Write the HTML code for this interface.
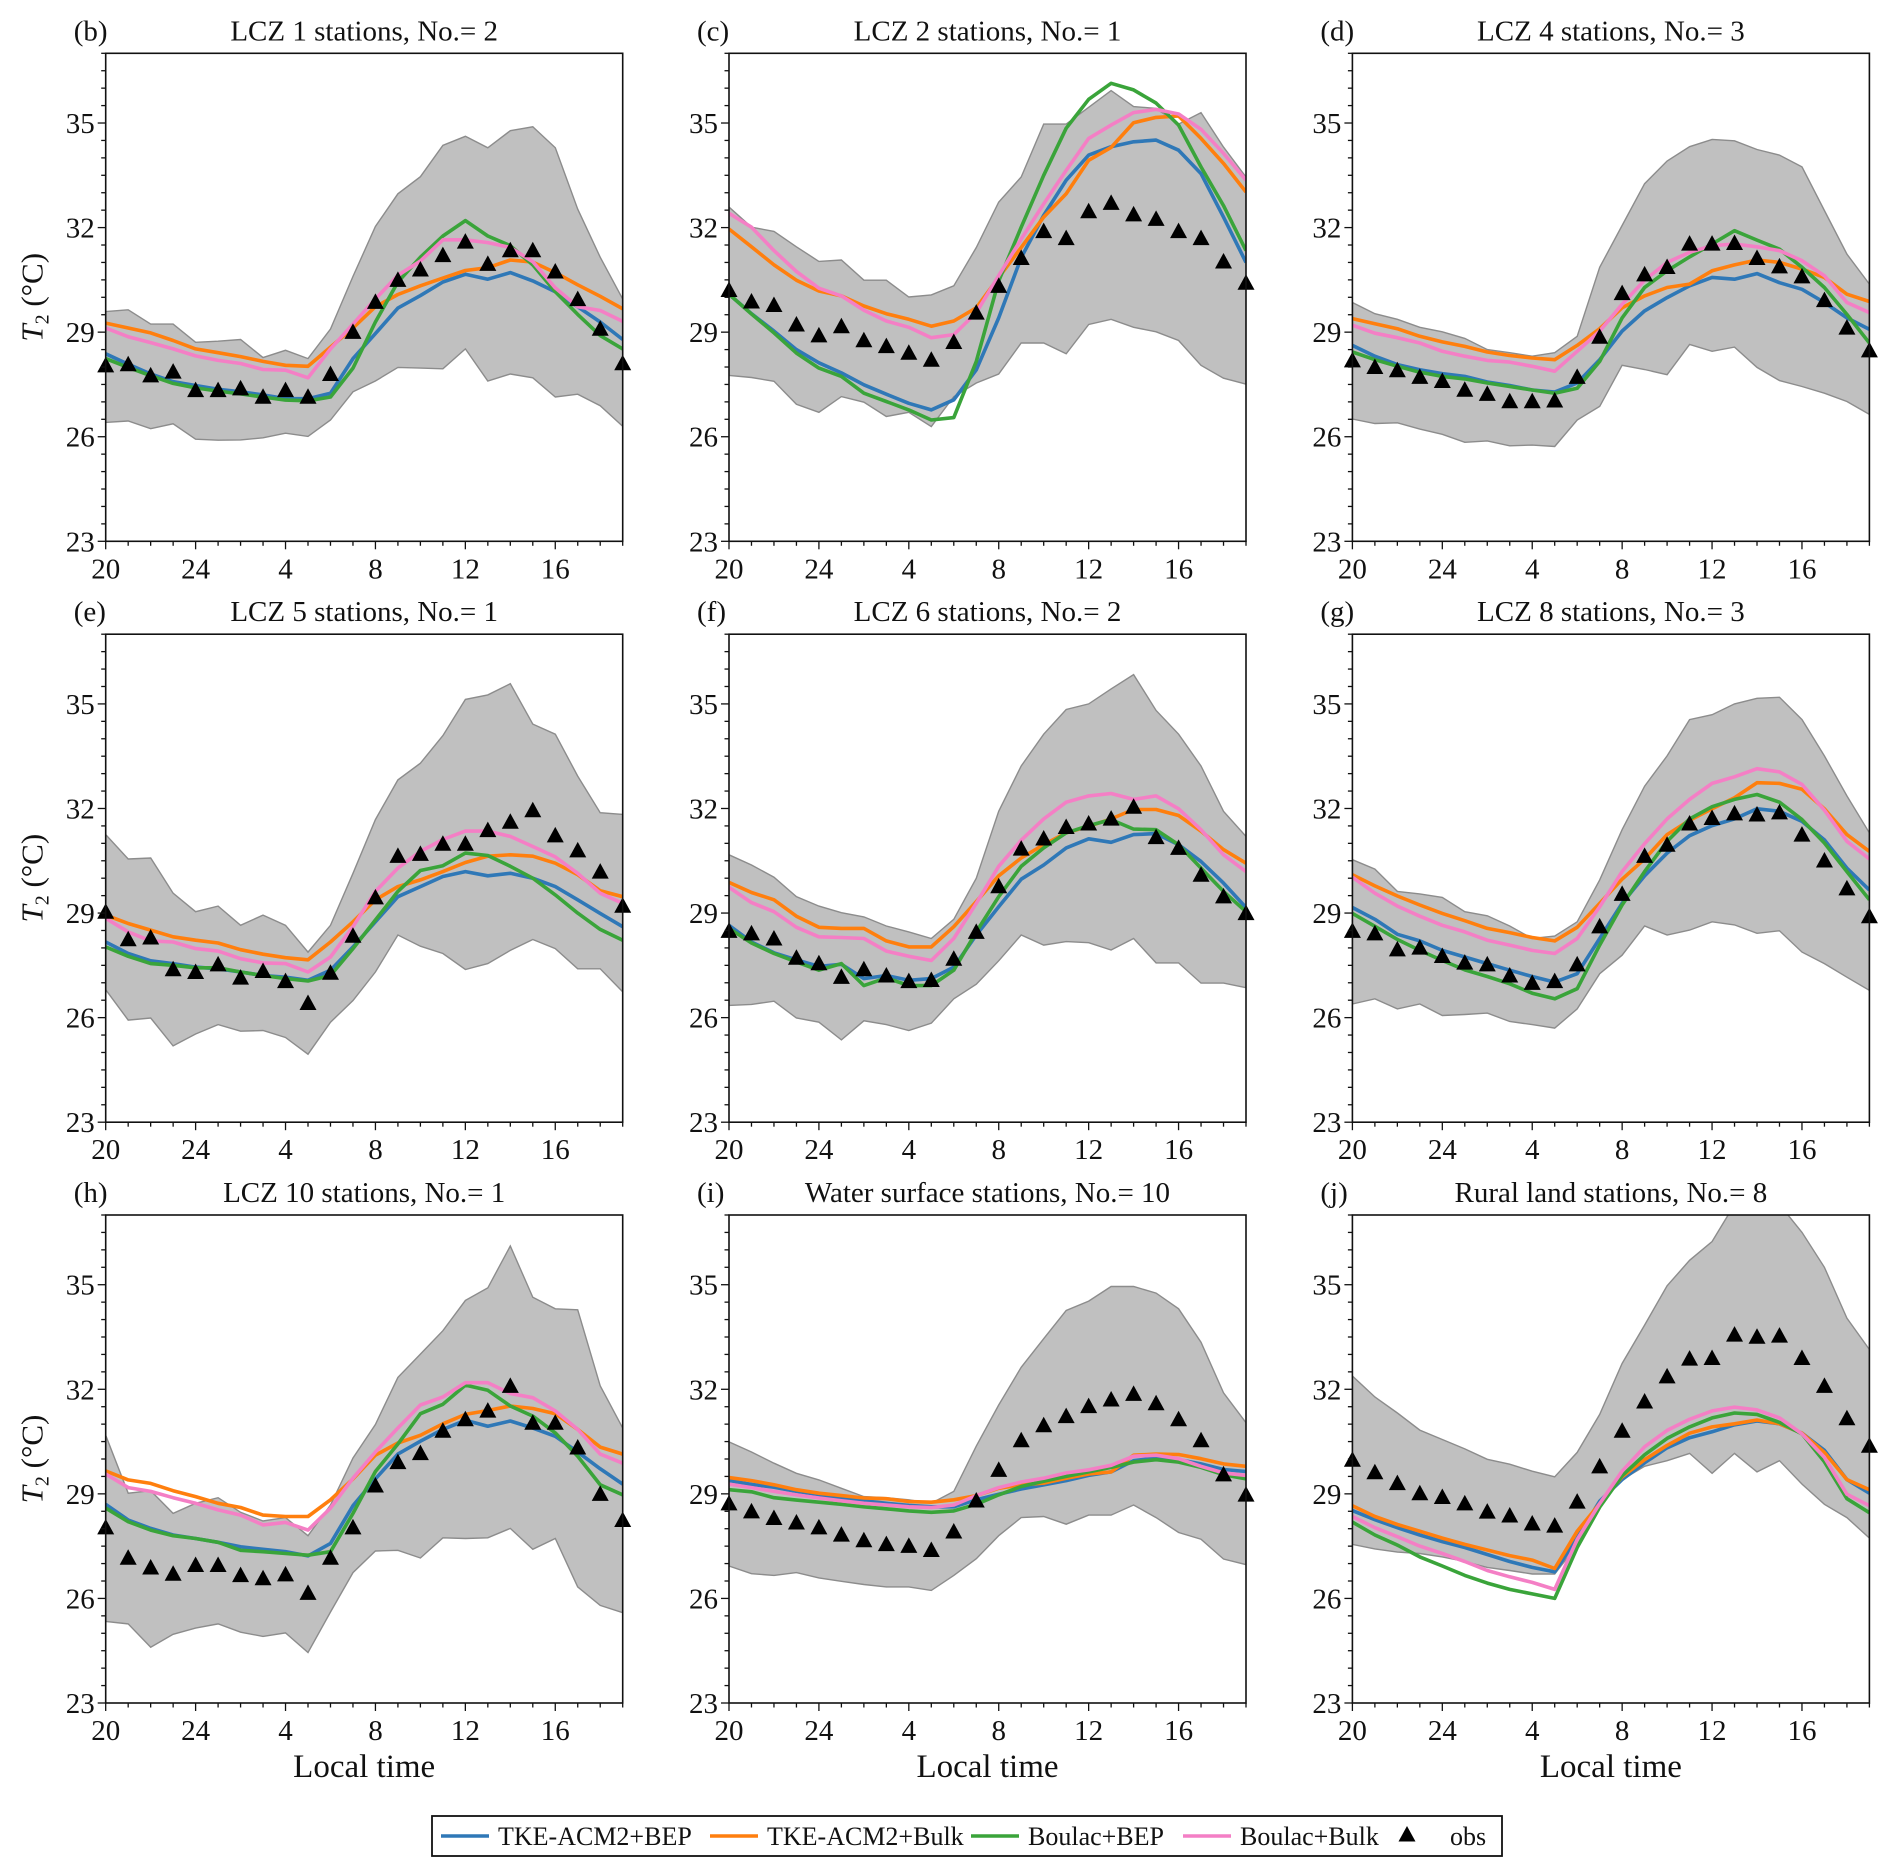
<!DOCTYPE html>
<html><head><meta charset="utf-8"><title>T2 diurnal cycles by LCZ</title>
<style>
html,body{margin:0;padding:0;background:#fff;}
svg{display:block;font-family:"Liberation Serif","DejaVu Serif",serif;}
</style></head>
<body>
<svg id="fig" width="1892" height="1873" viewBox="0 0 1892 1873" xmlns="http://www.w3.org/2000/svg"></svg>
<script>
// ---- data ----
const hourLabels = [20,21,22,23,24,1,2,3,4,5,6,7,8,9,10,11,12,13,14,15,16,17,18,19];
const xTickIdx = [0,4,8,12,16,20];
const xTickLabels = ["20","24","4","8","12","16"];
const yTicks = [23,26,29,32,35];
const panelLetters = ["(b)","(c)","(d)","(e)","(f)","(g)","(h)","(i)","(j)"];
const panelTitles = ["LCZ 1 stations, No.= 2","LCZ 2 stations, No.= 1","LCZ 4 stations, No.= 3","LCZ 5 stations, No.= 1","LCZ 6 stations, No.= 2","LCZ 8 stations, No.= 3","LCZ 10 stations, No.= 1","Water surface stations, No.= 10","Rural land stations, No.= 8"];

const tkeBep = [
[28.38,28.08,27.80,27.58,27.47,27.36,27.29,27.20,27.09,27.09,27.25,28.24,28.96,29.69,30.05,30.44,30.66,30.52,30.71,30.47,30.16,29.73,29.29,28.79],
[30.09,29.53,29.03,28.50,28.12,27.83,27.49,27.22,26.96,26.77,27.06,27.92,29.41,31.14,32.35,33.36,34.08,34.32,34.46,34.51,34.22,33.55,32.30,31.00],
[28.62,28.31,28.07,27.92,27.81,27.73,27.57,27.47,27.34,27.28,27.54,28.21,29.03,29.61,29.99,30.33,30.57,30.52,30.68,30.42,30.23,29.85,29.41,29.08],
[28.17,27.84,27.63,27.55,27.45,27.40,27.31,27.21,27.16,27.07,27.36,28.03,28.75,29.47,29.76,30.05,30.19,30.07,30.14,30.00,29.76,29.38,28.99,28.61],
[28.65,28.17,27.86,27.66,27.47,27.53,27.12,27.21,27.07,27.12,27.45,28.37,29.18,29.97,30.38,30.87,31.13,31.03,31.25,31.28,30.96,30.48,29.86,29.16],
[29.16,28.82,28.39,28.20,27.93,27.74,27.55,27.36,27.18,27.02,27.26,28.27,29.28,30.07,30.72,31.22,31.51,31.70,31.99,31.92,31.63,31.10,30.29,29.66],
[28.70,28.25,28.01,27.82,27.72,27.61,27.48,27.41,27.34,27.22,27.58,28.66,29.43,30.14,30.51,30.85,31.11,30.94,31.09,30.89,30.65,30.20,29.72,29.28],
[29.38,29.27,29.19,29.07,28.98,28.88,28.80,28.73,28.67,28.63,28.63,28.83,28.99,29.14,29.26,29.38,29.53,29.63,29.95,30.03,29.98,29.86,29.70,29.64],
[28.52,28.26,28.03,27.82,27.63,27.46,27.26,27.06,26.89,26.76,27.73,28.79,29.41,29.89,30.32,30.61,30.78,30.98,31.09,31.01,30.74,30.25,29.41,29.02]];
const tkeBulk = [
[29.26,29.12,28.98,28.76,28.52,28.41,28.30,28.16,28.05,28.02,28.57,29.12,29.73,30.08,30.33,30.55,30.77,30.85,31.07,31.01,30.71,30.36,30.03,29.67],
[31.96,31.45,30.93,30.49,30.18,30.04,29.75,29.53,29.37,29.17,29.32,29.70,30.57,31.43,32.30,32.97,33.93,34.30,35.01,35.16,35.20,34.56,33.84,33.02],
[29.39,29.24,29.10,28.88,28.72,28.59,28.43,28.33,28.26,28.21,28.62,29.10,29.70,30.04,30.28,30.38,30.76,30.93,31.07,31.00,30.81,30.57,30.09,29.88],
[28.94,28.70,28.51,28.32,28.22,28.14,27.95,27.82,27.72,27.66,28.17,28.75,29.38,29.76,29.95,30.19,30.45,30.63,30.67,30.63,30.43,30.10,29.64,29.47],
[29.88,29.59,29.38,28.91,28.59,28.56,28.56,28.20,28.03,28.03,28.61,29.33,30.07,30.58,30.96,31.30,31.49,31.70,31.97,31.97,31.80,31.35,30.82,30.43],
[30.10,29.78,29.49,29.23,28.99,28.78,28.56,28.44,28.30,28.20,28.59,29.28,29.97,30.55,31.25,31.66,31.99,32.31,32.74,32.72,32.55,31.99,31.25,30.77],
[29.66,29.40,29.30,29.09,28.92,28.73,28.61,28.39,28.35,28.35,28.83,29.43,30.11,30.46,30.68,31.01,31.28,31.39,31.52,31.45,31.30,30.85,30.34,30.14],
[29.47,29.38,29.26,29.12,29.02,28.95,28.88,28.86,28.78,28.76,28.83,28.95,29.16,29.26,29.31,29.45,29.57,29.63,30.11,30.14,30.13,30.01,29.86,29.79],
[28.66,28.35,28.12,27.93,27.73,27.55,27.39,27.23,27.10,26.86,27.93,28.72,29.49,29.98,30.39,30.74,30.92,31.01,31.12,31.01,30.74,30.19,29.41,29.12]];
const boulacBep = [
[28.24,27.99,27.75,27.53,27.40,27.31,27.23,27.14,27.05,27.03,27.14,27.97,29.29,30.44,31.15,31.76,32.20,31.76,31.48,30.93,30.16,29.51,28.90,28.52],
[30.09,29.52,28.98,28.40,27.97,27.73,27.25,27.01,26.77,26.48,26.55,28.16,30.47,32.01,33.50,34.85,35.68,36.14,35.95,35.57,34.94,33.74,32.63,31.34],
[28.43,28.21,28.02,27.85,27.73,27.66,27.54,27.44,27.34,27.25,27.39,28.16,29.41,30.28,30.76,31.16,31.53,31.91,31.64,31.38,30.86,30.28,29.51,28.69],
[28.03,27.76,27.55,27.50,27.43,27.43,27.31,27.21,27.12,27.05,27.21,27.98,28.80,29.62,30.22,30.36,30.72,30.65,30.34,30.00,29.52,29.00,28.53,28.22],
[28.56,28.14,27.84,27.60,27.36,27.55,26.92,27.14,26.92,26.92,27.36,28.46,29.47,30.34,30.87,31.30,31.51,31.68,31.41,31.39,30.96,30.29,29.62,29.04],
[28.99,28.62,28.24,27.93,27.64,27.37,27.18,26.97,26.70,26.54,26.83,28.08,29.23,30.19,31.06,31.70,32.05,32.26,32.40,32.18,31.68,31.01,30.19,29.38],
[28.59,28.20,27.96,27.80,27.72,27.61,27.38,27.34,27.29,27.24,27.34,28.44,29.64,30.43,31.30,31.57,32.12,31.97,31.52,31.23,30.75,30.08,29.26,28.97],
[29.12,29.06,28.89,28.82,28.76,28.70,28.63,28.57,28.51,28.47,28.51,28.70,28.97,29.21,29.36,29.50,29.63,29.76,29.91,29.98,29.91,29.76,29.55,29.43],
[28.19,27.82,27.53,27.19,26.93,26.66,26.44,26.26,26.13,26.00,27.46,28.62,29.52,30.12,30.59,30.92,31.18,31.32,31.28,31.05,30.72,29.92,28.86,28.46]];
const boulacBulk = [
[29.12,28.87,28.70,28.52,28.32,28.19,28.10,27.93,27.91,27.69,28.52,29.23,29.95,30.63,31.04,31.65,31.65,31.57,31.43,31.02,30.27,29.73,29.62,29.31],
[32.41,32.01,31.34,30.74,30.26,30.04,29.63,29.32,29.14,28.84,28.93,29.56,30.62,31.67,32.68,33.64,34.56,34.94,35.30,35.39,35.26,34.82,34.13,33.36],
[29.20,28.97,28.84,28.69,28.45,28.31,28.19,28.14,28.02,27.88,28.45,29.03,29.80,30.49,31.00,31.29,31.48,31.53,31.45,31.34,31.05,30.62,29.85,29.56],
[28.85,28.46,28.20,28.17,27.98,27.91,27.69,27.57,27.55,27.31,27.74,28.61,29.62,30.29,30.77,31.11,31.35,31.35,31.20,30.91,30.61,30.14,29.57,29.28],
[29.74,29.30,29.04,28.59,28.32,28.30,28.27,27.91,27.76,27.64,28.27,29.28,30.34,31.09,31.70,32.18,32.36,32.43,32.26,32.36,31.99,31.39,30.67,30.19],
[30.03,29.57,29.20,28.91,28.65,28.46,28.22,28.08,27.93,27.84,28.27,29.18,30.19,30.99,31.70,32.26,32.72,32.91,33.14,33.05,32.69,31.95,31.06,30.55],
[29.57,29.18,29.07,28.89,28.73,28.54,28.39,28.11,28.18,27.96,28.59,29.45,30.20,30.89,31.55,31.78,32.19,32.19,31.88,31.76,31.38,30.85,30.14,29.88],
[29.28,29.18,29.07,28.97,28.88,28.80,28.73,28.68,28.63,28.61,28.68,28.95,29.18,29.34,29.45,29.60,29.69,29.82,30.08,30.11,30.01,29.79,29.60,29.53],
[28.35,28.03,27.77,27.50,27.29,27.06,26.80,26.62,26.46,26.26,27.69,28.72,29.65,30.35,30.82,31.14,31.38,31.49,31.41,31.18,30.72,30.05,28.99,28.66]];
const obsVals = [
[28.02,28.05,27.73,27.84,27.31,27.31,27.36,27.12,27.31,27.12,27.77,28.98,29.84,30.47,30.77,31.18,31.57,30.93,31.32,31.32,30.71,29.92,29.07,28.08],
[30.18,29.85,29.75,29.19,28.88,29.14,28.74,28.57,28.38,28.18,28.69,29.53,30.30,31.10,31.87,31.67,32.44,32.68,32.35,32.22,31.87,31.67,31.00,30.39],
[28.16,27.97,27.88,27.69,27.57,27.32,27.20,26.99,26.99,27.01,27.69,28.84,30.09,30.63,30.84,31.51,31.51,31.53,31.10,30.86,30.57,29.89,29.10,28.45],
[29.01,28.22,28.27,27.36,27.28,27.50,27.12,27.31,27.02,26.39,27.26,28.32,29.42,30.61,30.67,30.96,30.96,31.35,31.59,31.92,31.20,30.77,30.16,29.18],
[28.46,28.39,28.24,27.69,27.53,27.14,27.36,27.18,27.02,27.05,27.66,28.43,29.74,30.82,31.11,31.44,31.54,31.68,32.02,31.15,30.84,30.07,29.45,28.97],
[28.46,28.39,27.93,27.98,27.74,27.55,27.50,27.18,26.97,27.02,27.50,28.59,29.52,30.61,30.93,31.54,31.70,31.83,31.80,31.86,31.22,30.48,29.68,28.88],
[28.01,27.14,26.86,26.68,26.93,26.93,26.64,26.55,26.66,26.13,27.14,28.01,29.21,29.88,30.14,30.78,31.11,31.36,32.07,31.01,31.01,30.30,28.97,28.22],
[28.70,28.47,28.28,28.15,28.01,27.80,27.64,27.53,27.48,27.36,27.89,28.78,29.66,30.51,30.94,31.20,31.49,31.68,31.84,31.57,31.11,30.51,29.53,28.95],
[29.95,29.59,29.28,28.99,28.88,28.70,28.46,28.35,28.12,28.06,28.75,29.76,30.78,31.62,32.34,32.85,32.87,33.54,33.48,33.51,32.87,32.07,31.14,30.35]];
const bandUpper = [
[29.59,29.64,29.23,29.23,28.71,28.74,28.79,28.27,28.48,28.24,29.09,30.60,32.03,32.97,33.46,34.36,34.62,34.29,34.78,34.89,34.29,32.53,31.15,29.95],
[32.59,32.01,31.89,31.45,31.03,31.07,30.49,30.49,30.01,30.07,30.33,31.43,32.73,33.45,34.97,34.97,35.45,35.93,35.47,35.42,34.97,35.30,34.31,33.45],
[29.85,29.53,29.37,29.14,29.01,28.82,28.50,28.41,28.31,28.41,28.88,30.86,32.06,33.26,33.91,34.32,34.53,34.49,34.24,34.08,33.74,32.49,31.24,30.38],
[31.25,30.55,30.58,29.57,29.04,29.20,28.65,28.94,28.65,27.88,28.65,30.14,31.68,32.82,33.30,34.09,35.13,35.26,35.58,34.42,34.13,32.93,31.88,31.83],
[30.67,30.38,30.03,29.47,29.20,29.01,28.89,28.63,28.46,28.27,28.82,30.00,31.92,33.22,34.13,34.84,35.00,35.43,35.84,34.81,34.13,33.22,31.92,31.20],
[30.53,30.26,29.62,29.55,29.45,29.04,28.92,28.63,28.27,28.34,28.75,29.95,31.39,32.64,33.51,34.55,34.69,35.00,35.16,35.19,34.55,33.51,32.36,31.30],
[30.68,29.02,29.09,28.44,28.73,28.89,28.47,28.22,28.32,27.80,28.68,30.03,30.99,32.34,33.01,33.68,34.55,34.91,36.11,34.64,34.31,34.28,32.10,30.89],
[30.49,30.20,29.88,29.59,29.40,29.16,28.92,28.89,28.83,28.73,29.07,30.37,31.55,32.63,33.45,34.26,34.53,34.95,34.95,34.76,34.31,33.35,31.90,31.04],
[32.38,31.78,31.32,30.83,30.56,30.29,29.99,29.85,29.65,29.49,30.19,31.28,32.74,33.84,34.97,35.70,36.24,37.30,37.50,37.30,36.50,35.50,34.04,33.14]];
const bandLower = [
[26.41,26.45,26.23,26.37,25.93,25.90,25.91,25.97,26.10,26.01,26.48,27.29,27.60,27.99,27.97,27.95,28.52,27.60,27.80,27.69,27.14,27.22,26.89,26.30],
[27.76,27.70,27.59,26.93,26.70,27.15,26.99,26.58,26.70,26.29,27.15,27.54,27.80,28.69,28.69,28.38,29.22,29.37,29.14,29.01,28.76,28.05,27.68,27.51],
[26.51,26.38,26.40,26.22,26.07,25.84,25.88,25.74,25.76,25.72,26.48,26.87,28.05,27.93,27.78,28.65,28.45,28.57,27.99,27.61,27.44,27.25,27.01,26.64],
[26.80,25.93,25.99,25.19,25.53,25.80,25.61,25.63,25.43,24.95,25.87,26.49,27.31,28.37,28.05,27.84,27.38,27.55,27.93,28.24,27.98,27.40,27.40,26.74],
[26.35,26.38,26.47,25.99,25.87,25.36,25.91,25.80,25.63,25.84,26.54,26.96,27.63,28.37,28.08,28.18,28.15,27.94,28.27,27.57,27.57,26.99,26.99,26.86],
[26.39,26.54,26.25,26.39,26.06,26.09,26.13,25.89,25.80,25.70,26.25,27.26,27.79,28.63,28.37,28.51,28.75,28.66,28.42,28.49,27.88,27.55,27.16,26.78],
[25.34,25.27,24.60,24.97,25.15,25.27,25.03,24.91,25.01,24.45,25.61,26.74,27.36,27.38,27.16,27.74,27.72,27.74,28.01,27.41,27.72,26.33,25.80,25.59],
[26.93,26.71,26.66,26.74,26.59,26.49,26.40,26.33,26.33,26.23,26.66,27.14,27.80,28.32,28.35,28.13,28.39,28.39,28.68,28.32,27.89,27.70,27.13,26.97],
[27.55,27.42,27.33,27.29,27.19,27.06,26.89,26.80,26.70,26.70,27.53,28.72,29.41,29.79,29.95,30.16,29.59,30.16,29.63,29.95,29.28,28.70,28.32,27.73]];

const seriesNames = ["TKE-ACM2+BEP","TKE-ACM2+Bulk","Boulac+BEP","Boulac+Bulk"];
const seriesColors = ["#2f78b7","#ff7f0e","#3aa43a","#f47fc5"];

// ---- layout ----
const NS = "http://www.w3.org/2000/svg";
const svg = document.getElementById("fig");
const colLeft = [105.7, 729, 1352.4];
const rowTop = [53.3, 634.2, 1215];
const W = 517, H = 488;
const Y0 = 23, Y1 = 37, XMAX = 23;

function mk(tag, attrs, parent) {
  const e = document.createElementNS(NS, tag);
  for (const k in attrs) e.setAttribute(k, attrs[k]);
  (parent || svg).appendChild(e);
  return e;
}
const defs = mk("defs", {});

for (let p = 0; p < 9; p++) {
  const r = Math.floor(p / 3), c = p % 3;
  const L = colLeft[c], T = rowTop[r];
  const xs = i => L + i * W / XMAX;
  const ys = v => T + (Y1 - v) * H / (Y1 - Y0);

  const g = mk("g", {});
  
  

  const cp = mk("clipPath", {id: "clip" + p}, defs);
  mk("rect", {x: L, y: T, width: W, height: H}, cp);
  const plot = mk("g", {"clip-path": "url(#clip" + p + ")"}, g);

  let d = "";
  for (let i = 0; i < 24; i++) d += (i ? "L" : "M") + xs(i).toFixed(1) + "," + ys(bandUpper[p][i]).toFixed(1);
  for (let i = 23; i >= 0; i--) d += "L" + xs(i).toFixed(1) + "," + ys(bandLower[p][i]).toFixed(1);
  const band = mk("path", {d: d + "Z", fill: "#c0c0c0", stroke: "#8c8c8c", "stroke-width": 1.4}, plot);
  
  

  const sets = [tkeBep, tkeBulk, boulacBep, boulacBulk];
  for (let s = 0; s < 4; s++) {
    let pts = [];
    for (let i = 0; i < 24; i++) pts.push(xs(i).toFixed(1) + "," + ys(sets[s][p][i]).toFixed(1));
    const ln = mk("polyline", {points: pts.join(" "), fill: "none", stroke: seriesColors[s], "stroke-width": 3.6, "stroke-linejoin": "round"}, plot);
    
    
  }
  for (let i = 0; i < 24; i++) {
    const x = xs(i), y = ys(obsVals[p][i]);
    const tri = mk("polygon", {points: `${x},${y-9.5} ${x-8.5},${y+6} ${x+8.5},${y+6}`, fill: "#000"}, g);
    
    
  }

  const fr = mk("rect", {x: L, y: T, width: W, height: H, fill: "none", stroke: "#111", "stroke-width": 1.6}, g);
  
  

  for (let v = Y0; v <= Y1 + 0.001; v += 0.5) {
    const major = yTicks.indexOf(v) >= 0;
    mk("line", {x1: L, x2: L - (major ? 8 : 4.5), y1: ys(v), y2: ys(v), stroke: "#111", "stroke-width": 1.3}, g);
  }
  for (const v of yTicks) {
    const t = mk("text", {x: L - 11, y: ys(v) + 10, "text-anchor": "end", "font-size": 29, fill: "#111"}, g);
    t.textContent = v;
    
    
  }
  for (let i = 0; i <= XMAX; i++) {
    const major = xTickIdx.indexOf(i) >= 0;
    mk("line", {x1: xs(i), x2: xs(i), y1: T + H, y2: T + H + (major ? 8 : 4.5), stroke: "#111", "stroke-width": 1.3}, g);
  }
  for (let k = 0; k < xTickIdx.length; k++) {
    const t = mk("text", {x: xs(xTickIdx[k]), y: T + H + 37, "text-anchor": "middle", "font-size": 29, fill: "#111"}, g);
    t.textContent = xTickLabels[k];
    
    
  }
  const lt = mk("text", {x: L - 32, y: T - 13, "font-size": 29, fill: "#111"}, g);
  lt.textContent = panelLetters[p];
  
  
  const tt = mk("text", {x: L + W / 2, y: T - 13, "text-anchor": "middle", "font-size": 29, fill: "#111"}, g);
  tt.textContent = panelTitles[p];
  
  

  if (c === 0) {
    const yl = mk("text", {transform: `translate(${L - 63},${T + H / 2}) rotate(-90)`, "text-anchor": "middle", "font-size": 31, fill: "#111"}, g);
    yl.innerHTML = '<tspan font-style="italic">T</tspan><tspan font-size="20" dy="6">2</tspan><tspan dy="-6"> (°C)</tspan>';
    
    
  }
  if (r === 2) {
    const xl = mk("text", {x: L + W / 2, y: T + H + 74, "text-anchor": "middle", "font-size": 33, fill: "#111"}, g);
    xl.textContent = "Local time";
    
    
  }
}

// ---- legend ----
const lg = mk("g", {});


mk("rect", {x: 432, y: 1816, width: 1070, height: 40, fill: "#fff", stroke: "#111", "stroke-width": 1.8}, lg);
const legLineX = [441, 710, 971, 1183];
for (let s = 0; s < 4; s++) {
  const e = mk("g", {}, lg);
  
  
  mk("line", {x1: legLineX[s], x2: legLineX[s] + 48, y1: 1836, y2: 1836, stroke: seriesColors[s], "stroke-width": 3.6}, e);
  const t = mk("text", {x: legLineX[s] + 57, y: 1845, "font-size": 26, fill: "#111"}, e);
  t.textContent = seriesNames[s];
}
const eo = mk("g", {}, lg);


mk("polygon", {points: "1407,1826 1398.5,1841.5 1415.5,1841.5", fill: "#000"}, eo);
const ot = mk("text", {x: 1450, y: 1845, "font-size": 26, fill: "#111"}, eo);
ot.textContent = "obs";
</script>
</body></html>
